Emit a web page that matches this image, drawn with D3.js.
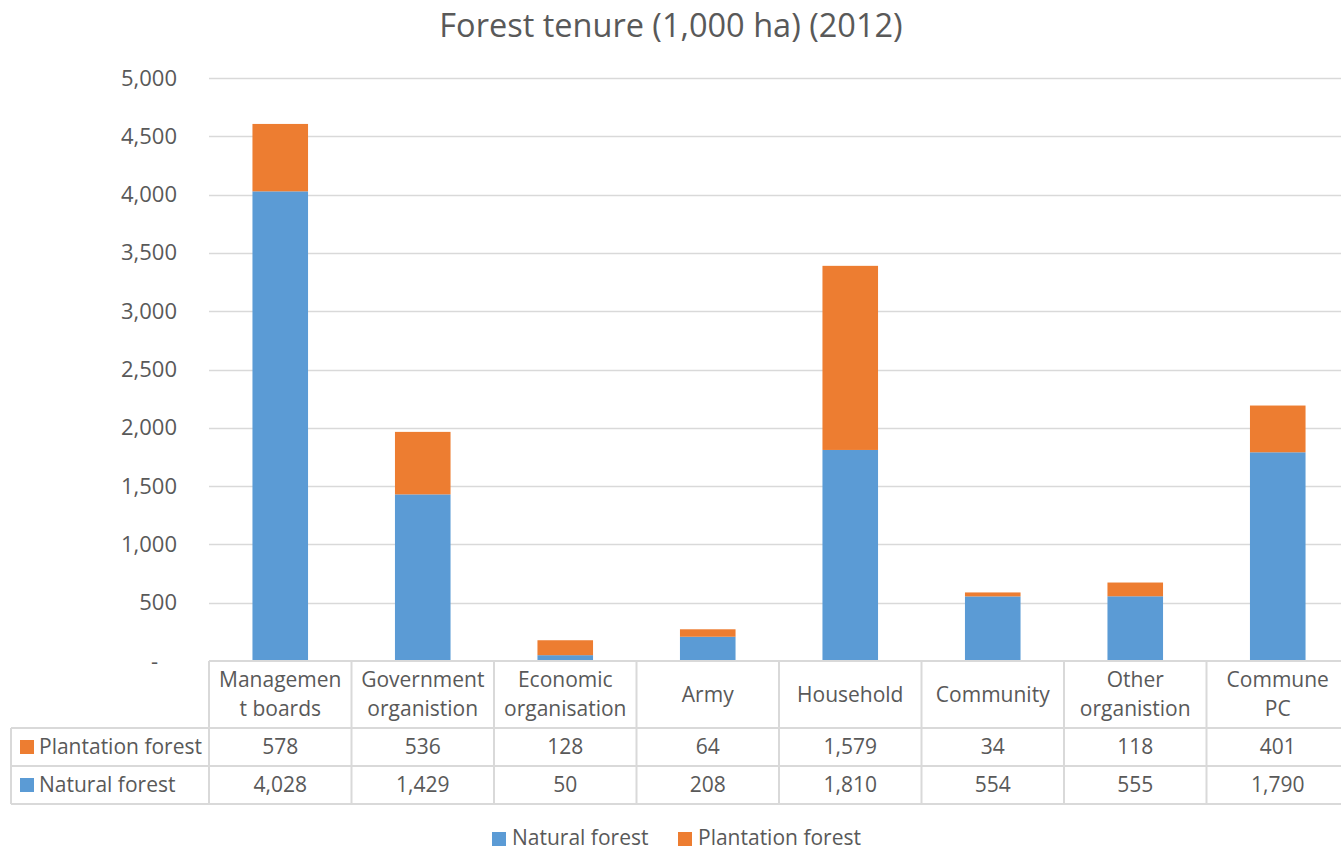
<!DOCTYPE html>
<html>
<head>
<meta charset="utf-8">
<script src="https://cdn.jsdelivr.net/npm/d3@7"></script>
<style>
  html, body { margin: 0; padding: 0; background: #fff; overflow: hidden; }
  svg { display: block; font-family: "Open Sans", "Noto Sans", sans-serif; }
</style>
</head>
<body>
<svg id="chart" width="1341" height="850"></svg>
<script>
// Forest tenure by owner type, thousand hectares, 2012
const categories = ["Management boards", "Government organistion", "Economic organisation", "Army",
                    "Household", "Community", "Other organistion", "Commune PC"];
// wrapped header lines for the data table
const categoryLines = [["Managemen", "t boards"], ["Government", "organistion"], ["Economic", "organisation"],
                       ["Army"], ["Household"], ["Community"], ["Other", "organistion"], ["Commune", "PC"]];
const naturalForest = [4028, 1429, 50, 208, 1810, 554, 555, 1790];
const plantationForest = [578, 536, 128, 64, 1579, 34, 118, 401];
const yTicks = [0, 500, 1000, 1500, 2000, 2500, 3000, 3500, 4000, 4500, 5000];
const seriesNames = ["Natural forest", "Plantation forest"];
const seriesColors = ["#5B9BD5", "#ED7D31"];
const titleText = "Forest tenure (1,000 ha) (2012)";

const svg = d3.select("#chart");
const textColor = "#595959";
const gridColor = "#d9d9d9";
const fontFamily = "\"Open Sans\", \"Noto Sans\", sans-serif";

const plotLeft = 209, plotRight = 1349, plotTop = 78, plotBottom = 661;

const x = d3.scaleBand().domain(categories).range([plotLeft, plotRight]).paddingInner(0.61).paddingOuter(0.305);
const xCol = d3.scaleBand().domain(categories).range([plotLeft, plotRight]);
const y = d3.scaleLinear().domain([0, 5000]).range([plotBottom, plotTop]);

// title
svg.append("text")
  .attr("x", 671).attr("y", 37)
  .attr("text-anchor", "middle")
  .style("font-size", "32.5px")
  .attr("fill", textColor)
  .text(titleText);

// gridlines
svg.append("g").selectAll("line")
  .data(yTicks.filter(d => d > 0))
  .join("line")
  .attr("x1", plotLeft).attr("x2", plotRight)
  .attr("y1", d => Math.round(y(d)) + 0.5).attr("y2", d => Math.round(y(d)) + 0.5)
  .attr("stroke", gridColor).attr("stroke-width", 1.5);

// y axis labels
const fmt = d3.format(",");
const yAxis = d3.axisLeft(y).tickValues(yTicks).tickSize(0).tickPadding(0)
  .tickFormat(d => d === 0 ? "-" : fmt(d));
const yg = svg.append("g").attr("transform", `translate(177,0)`).call(yAxis)
  .attr("font-size", null).attr("font-family", null);
yg.select(".domain").remove();
yg.selectAll("text")
  .style("font-size", "22px")
  .style("font-family", fontFamily)
  .attr("fill", textColor);
yg.selectAll(".tick").filter(d => d === 0).select("text").attr("dx", -19);

// stacked bars
const rows = categories.map((c, i) => ({ cat: c, natural: naturalForest[i], plantation: plantationForest[i] }));
const stack = d3.stack().keys(["natural", "plantation"]);
const stacked = stack(rows);
svg.append("g").selectAll("g")
  .data(stacked)
  .join("g")
  .attr("fill", (d, i) => seriesColors[i])
  .selectAll("rect")
  .data(d => d)
  .join("rect")
  .attr("x", d => x(d.data.cat))
  .attr("width", x.bandwidth())
  .attr("y", d => y(d[1]))
  .attr("height", d => y(d[0]) - y(d[1]));

// data table
const headerTop = 661, headerBottom = 728, row1Bottom = 766, row2Bottom = 804;
const tableLeft = 11;
const tableFont = "21px";
const tbl = svg.append("g").attr("stroke", gridColor).attr("stroke-width", 2).attr("fill", "none");
// horizontal lines
tbl.append("line").attr("x1", plotLeft).attr("x2", plotRight).attr("y1", headerTop).attr("y2", headerTop);
[headerBottom, row1Bottom, row2Bottom].forEach(yy =>
  tbl.append("line").attr("x1", tableLeft).attr("x2", plotRight).attr("y1", yy).attr("y2", yy));
// vertical lines
tbl.append("line").attr("x1", tableLeft).attr("x2", tableLeft).attr("y1", headerBottom).attr("y2", row2Bottom);
tbl.selectAll(".vcol").data(categories).join("line")
  .attr("x1", d => xCol(d)).attr("x2", d => xCol(d))
  .attr("y1", headerTop).attr("y2", row2Bottom);

// header labels
const lineGap = 29;
const headerMid = (headerTop + headerBottom) / 2;
svg.append("g").selectAll("text")
  .data(categories)
  .join("text")
  .attr("text-anchor", "middle")
  .style("font-size", tableFont)
  .attr("fill", textColor)
  .each(function(d, i) {
    const lines = categoryLines[i];
    const cx = xCol(d) + xCol.bandwidth() / 2;
    const firstBaseline = headerMid + 7 - (lines.length - 1) * lineGap / 2;
    d3.select(this).selectAll("tspan").data(lines).join("tspan")
      .attr("x", cx)
      .attr("y", (l, j) => firstBaseline + j * lineGap)
      .text(l => l);
  });

// value rows: plantation on top, natural below
const tableRows = [
  { name: seriesNames[1], color: seriesColors[1], values: plantationForest, top: headerBottom, bottom: row1Bottom },
  { name: seriesNames[0], color: seriesColors[0], values: naturalForest, top: row1Bottom, bottom: row2Bottom }
];
tableRows.forEach(r => {
  const mid = (r.top + r.bottom) / 2;
  svg.append("rect").attr("x", 20).attr("y", mid - 7).attr("width", 14).attr("height", 14).attr("fill", r.color);
  svg.append("text").attr("x", 39).attr("y", mid + 7).style("font-size", tableFont).attr("fill", textColor).text(r.name);
  svg.append("g").selectAll("text").data(r.values).join("text")
    .attr("x", (v, i) => xCol(categories[i]) + xCol.bandwidth() / 2)
    .attr("y", mid + 7)
    .attr("text-anchor", "middle")
    .style("font-size", tableFont)
    .attr("fill", textColor)
    .text(v => fmt(v));
});

// legend
const legendItems = [
  { name: seriesNames[0], color: seriesColors[0], x: 492 },
  { name: seriesNames[1], color: seriesColors[1], x: 678 }
];
const lg = svg.append("g");
legendItems.forEach(it => {
  lg.append("rect").attr("x", it.x).attr("y", 832).attr("width", 14).attr("height", 14).attr("fill", it.color);
  lg.append("text").attr("x", it.x + 20).attr("y", 845).style("font-size", tableFont).attr("fill", textColor).text(it.name);
});
</script>
</body>
</html>
